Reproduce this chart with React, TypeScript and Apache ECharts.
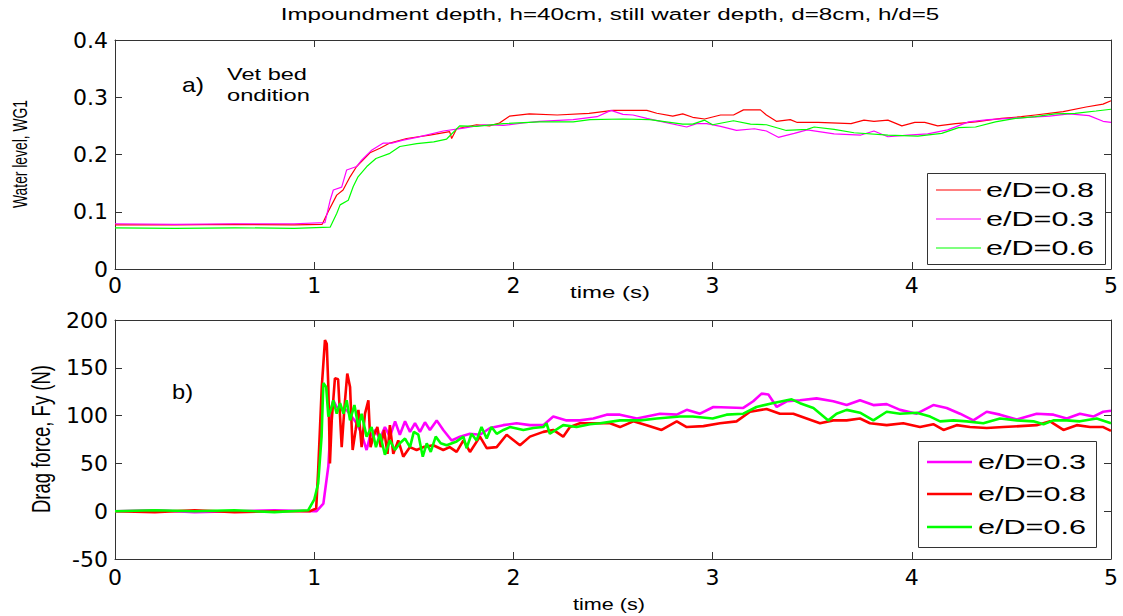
import React, { useEffect, useRef } from "react";
import * as echarts from "echarts";

// ---------- DATA ----------
const xTickLabels = ["0", "1", "2", "3", "4", "5"];
const topYTicks = [0, 0.1, 0.2, 0.3, 0.4];
const botYTicks = [-50, 0, 50, 100, 150, 200];

const titleText = "Impoundment depth, h=40cm, still water depth, d=8cm, h/d=5";
const topYName = "Water level, WG1";
const botYName = "Drag force, Fy (N)";
const xName = "time (s)";

const nameA = "e/D=0.8";
const nameB = "e/D=0.3";
const nameC = "e/D=0.6";

// Top panel: water level (m) vs time (s)
const wlRed08: number[][] = [
  [0, 0.077], [0.3, 0.077], [0.6, 0.078], [0.9, 0.077], [1.04, 0.078], [1.07, 0.1], [1.113, 0.129], [1.145, 0.138],
  [1.18, 0.161], [1.213, 0.179], [1.28, 0.203], [1.33, 0.211], [1.38, 0.22], [1.464, 0.228], [1.58, 0.234], [1.68, 0.24],
  [1.69, 0.228], [1.715, 0.245], [1.815, 0.252], [1.88, 0.25], [1.93, 0.255], [1.98, 0.267], [2.08, 0.271], [2.22, 0.269],
  [2.38, 0.272], [2.5, 0.277], [2.67, 0.277], [2.72, 0.272], [2.8, 0.267], [2.85, 0.271], [2.9, 0.265], [2.96, 0.262],
  [3.04, 0.269], [3.105, 0.269], [3.155, 0.278], [3.24, 0.278], [3.27, 0.269], [3.32, 0.258], [3.39, 0.261], [3.425, 0.256],
  [3.53, 0.256], [3.695, 0.254], [3.76, 0.26], [3.81, 0.258], [3.88, 0.26], [3.95, 0.25], [4.015, 0.256], [4.065, 0.256],
  [4.13, 0.25], [4.22, 0.254], [4.32, 0.257], [4.45, 0.263], [4.55, 0.266], [4.62, 0.269], [4.76, 0.275], [4.875, 0.283],
  [4.96, 0.288], [5.0, 0.294],
];
const wlMag03: number[][] = [
  [0, 0.079], [0.3, 0.078], [0.6, 0.079], [0.9, 0.079], [1.054, 0.081], [1.08, 0.12], [1.096, 0.138], [1.138, 0.143],
  [1.163, 0.173], [1.213, 0.179], [1.238, 0.19], [1.29, 0.208], [1.347, 0.22], [1.39, 0.22], [1.447, 0.225], [1.515, 0.23],
  [1.648, 0.241], [1.75, 0.246], [1.85, 0.252], [1.95, 0.251], [2.05, 0.255], [2.13, 0.258], [2.3, 0.261], [2.42, 0.266],
  [2.49, 0.277], [2.55, 0.27], [2.6, 0.269], [2.67, 0.263], [2.75, 0.257], [2.87, 0.248], [2.92, 0.254], [2.97, 0.254],
  [3.04, 0.249], [3.12, 0.242], [3.21, 0.245], [3.27, 0.241], [3.33, 0.23], [3.41, 0.237], [3.475, 0.243], [3.61, 0.236],
  [3.745, 0.234], [3.81, 0.241], [3.88, 0.231], [3.98, 0.234], [4.08, 0.236], [4.18, 0.243], [4.285, 0.257], [4.385, 0.261],
  [4.54, 0.264], [4.69, 0.267], [4.79, 0.271], [4.89, 0.268], [4.96, 0.258], [5.0, 0.256],
];
const wlGrn06: number[][] = [
  [0, 0.072], [0.3, 0.071], [0.6, 0.072], [0.9, 0.071], [1.08, 0.073], [1.113, 0.097], [1.13, 0.112], [1.171, 0.12],
  [1.196, 0.144], [1.22, 0.161], [1.264, 0.179], [1.31, 0.193], [1.38, 0.202], [1.43, 0.214], [1.515, 0.219], [1.6, 0.222],
  [1.665, 0.227], [1.73, 0.25], [1.815, 0.249], [1.95, 0.254], [2.13, 0.257], [2.3, 0.257], [2.385, 0.261], [2.55, 0.262],
  [2.685, 0.261], [2.85, 0.253], [2.9, 0.253], [2.96, 0.26], [3.0, 0.252], [3.105, 0.259], [3.19, 0.253], [3.27, 0.252],
  [3.37, 0.242], [3.475, 0.244], [3.51, 0.248], [3.61, 0.244], [3.71, 0.238], [3.88, 0.234], [4.03, 0.232], [4.15, 0.237],
  [4.235, 0.247], [4.32, 0.248], [4.42, 0.257], [4.52, 0.263], [4.62, 0.266], [4.72, 0.271], [4.82, 0.272], [4.925, 0.276],
  [5.0, 0.279],
];

// Bottom panel: drag force (N) vs time (s)
const dfMag03: number[][] = [
  [0, 0], [0.2, 1], [0.4, -1], [0.6, 0], [0.8, 1], [1.0, 0], [1.012, 0], [1.046, 8], [1.071, 47], [1.088, 109], [1.096, 116],
  [1.113, 109], [1.138, 106], [1.163, 106], [1.188, 99], [1.213, 92], [1.238, 81], [1.263, 64], [1.28, 78], [1.305, 85],
  [1.33, 76], [1.355, 88], [1.38, 78], [1.406, 94], [1.43, 80], [1.456, 94], [1.481, 83], [1.506, 92], [1.531, 83],
  [1.556, 93], [1.581, 85], [1.615, 95], [1.648, 85], [1.69, 74], [1.732, 78], [1.782, 81], [1.832, 80], [1.883, 87],
  [1.949, 90], [2.016, 92], [2.083, 90], [2.15, 90], [2.2, 99], [2.267, 95], [2.334, 95], [2.401, 97], [2.468, 101],
  [2.535, 101], [2.62, 97], [2.736, 102], [2.82, 101], [2.87, 106], [2.937, 102], [3.004, 109], [3.154, 108], [3.204, 115],
  [3.246, 123], [3.28, 122], [3.322, 109], [3.372, 115], [3.439, 116], [3.522, 118], [3.606, 115], [3.673, 111], [3.74, 116],
  [3.807, 111], [3.874, 112], [3.941, 106], [4.025, 102], [4.108, 111], [4.175, 108], [4.242, 102], [4.309, 95], [4.376, 104],
  [4.443, 101], [4.527, 96], [4.627, 102], [4.711, 101], [4.778, 97], [4.844, 102], [4.911, 99], [4.961, 104], [5.0, 105],
];
const dfRed08: number[][] = [
  [0, 0], [0.2, -1], [0.4, 1], [0.6, -1], [0.8, 0], [0.98, 0], [1.01, 3], [1.02, 43], [1.038, 130], [1.054, 179], [1.063, 175],
  [1.071, 130], [1.079, 50], [1.088, 95], [1.104, 139], [1.12, 138], [1.138, 67], [1.152, 109], [1.166, 144], [1.18, 130],
  [1.193, 64], [1.208, 85], [1.222, 106], [1.238, 67], [1.255, 102], [1.272, 116], [1.283, 67], [1.297, 78], [1.317, 88],
  [1.334, 67], [1.351, 85], [1.368, 60], [1.38, 90], [1.397, 60], [1.422, 74], [1.447, 57], [1.48, 67], [1.514, 64],
  [1.548, 67], [1.598, 69], [1.648, 64], [1.68, 67], [1.715, 62], [1.749, 74], [1.782, 62], [1.832, 78], [1.866, 66],
  [1.916, 67], [1.966, 80], [2.033, 69], [2.083, 78], [2.15, 83], [2.2, 85], [2.25, 78], [2.284, 88], [2.334, 92],
  [2.418, 92], [2.485, 92], [2.535, 88], [2.602, 94], [2.669, 90], [2.744, 85], [2.82, 94], [2.87, 88], [2.954, 89],
  [3.037, 92], [3.12, 94], [3.188, 104], [3.271, 107], [3.338, 102], [3.405, 102], [3.472, 97], [3.539, 92], [3.606, 95],
  [3.673, 95], [3.74, 97], [3.79, 92], [3.874, 90], [3.957, 92], [4.041, 88], [4.108, 91], [4.159, 85], [4.225, 90],
  [4.292, 88], [4.376, 87], [4.46, 88], [4.543, 89], [4.627, 90], [4.694, 94], [4.761, 85], [4.828, 90], [4.895, 88],
  [4.961, 88], [5.0, 84],
];
const dfGrn06: number[][] = [
  [0, 0], [0.2, 1], [0.4, 0], [0.6, 1], [0.8, -1], [0.97, 1], [1.0, 12], [1.02, 29], [1.037, 78], [1.046, 134], [1.06, 130],
  [1.071, 99], [1.083, 106], [1.096, 116], [1.113, 102], [1.13, 113], [1.147, 102], [1.163, 116], [1.18, 95], [1.202, 111],
  [1.222, 88], [1.238, 102], [1.263, 78], [1.288, 88], [1.31, 67], [1.33, 81], [1.355, 59], [1.38, 74], [1.405, 64],
  [1.43, 71], [1.456, 76], [1.481, 67], [1.5, 83], [1.523, 80], [1.545, 57], [1.565, 71], [1.585, 62], [1.61, 78],
  [1.635, 71], [1.665, 69], [1.715, 73], [1.749, 78], [1.765, 66], [1.79, 81], [1.815, 74], [1.84, 88], [1.866, 76],
  [1.89, 88], [1.916, 81], [1.95, 85], [1.983, 88], [2.05, 85], [2.1, 87], [2.15, 88], [2.166, 92], [2.183, 81], [2.25, 90],
  [2.317, 88], [2.384, 91], [2.435, 92], [2.535, 95], [2.636, 95], [2.72, 97], [2.836, 99], [2.9, 99], [3.0, 97],
  [3.07, 101], [3.154, 102], [3.22, 109], [3.3, 113], [3.397, 117], [3.439, 113], [3.506, 108], [3.581, 95], [3.622, 102],
  [3.673, 106], [3.74, 103], [3.807, 95], [3.874, 104], [3.941, 102], [4.025, 103], [4.092, 99], [4.142, 94], [4.209, 95],
  [4.276, 94], [4.359, 92], [4.443, 97], [4.527, 95], [4.611, 94], [4.661, 91], [4.711, 95], [4.778, 95], [4.844, 94],
  [4.928, 97], [5.0, 92],
];

// ---------- STYLE ----------
const RED = "#ff0000";
const MAG = "#ff00ff";
const GRN = "#00ff00";
const AXIS = "#333333";
const TXT = "Liberation Sans";
const TICKFONT = "DejaVu Sans";
const STRETCH = 1.4;

const topSeries = [
  { name: nameA, data: wlRed08, color: RED },
  { name: nameB, data: wlMag03, color: MAG },
  { name: nameC, data: wlGrn06, color: GRN },
];
const botSeries = [
  { name: nameB, data: dfMag03, color: MAG },
  { name: nameA, data: dfRed08, color: RED },
  { name: nameC, data: dfGrn06, color: GRN },
];

let measureCtx: CanvasRenderingContext2D | null = null;
function textWidth(text: string, font: string): number {
  if (!measureCtx) measureCtx = document.createElement("canvas").getContext("2d");
  if (!measureCtx) return text.length * 8;
  measureCtx.font = font;
  return measureCtx.measureText(text).width || text.length * 8;
}

function fitText(text: string, x: number, y: number, size: number, width: number, align: string = "left", extra: any = {}) {
  const font = `${size}px "${TXT}", Arial, sans-serif`;
  const sx = width / textWidth(text, font);
  return {
    type: "text",
    x,
    y,
    scaleX: sx,
    scaleY: 1,
    z: 100,
    style: {
      text,
      font,
      fill: "#000",
      textAlign: align,
      textVerticalAlign: "middle",
      align,
      verticalAlign: "middle",
    },
    ...extra,
  };
}

function rotText(text: string, cx: number, cy: number, size: number, length: number) {
  const font = `${size}px "${TXT}", Arial, sans-serif`;
  const sx = length / textWidth(text, font);
  return {
    type: "text",
    x: cx,
    y: cy,
    rotation: Math.PI / 2,
    scaleX: sx,
    scaleY: STRETCH,
    z: 100,
    style: {
      text,
      font,
      fill: "#000",
      textAlign: "center",
      textVerticalAlign: "middle",
      align: "center",
      verticalAlign: "middle",
    },
  };
}

function legendBox(entries: any[], bx: number, by: number, bw: number, bh: number, rows: number[], lx1: number, lx2: number, tx: number, tw: number, lw: number) {
  const els: any[] = [
    {
      type: "rect",
      z: 99,
      shape: { x: bx + 0.5, y: by + 0.5, width: bw, height: bh },
      style: { fill: "#fff", stroke: AXIS, lineWidth: 1 },
    },
  ];
  entries.forEach((e, i) => {
    els.push({
      type: "line",
      z: 100,
      shape: { x1: lx1, y1: rows[i], x2: lx2, y2: rows[i] },
      style: { stroke: e.color, lineWidth: lw },
    });
    els.push(fitText(e.name, tx, rows[i], 21, tw, "left"));
  });
  return els;
}

const axisLineStyle = { color: AXIS, width: 1 };

function xAxisDef(grid: number, pos: string, showLabel: boolean, margin: number) {
  return {
    type: "value",
    gridIndex: grid,
    position: pos,
    min: 0,
    max: 5,
    interval: 1,
    axisLine: { show: true, onZero: false, lineStyle: axisLineStyle },
    axisTick: { show: true, inside: true, length: 7, lineStyle: axisLineStyle },
    splitLine: { show: false },
    axisLabel: {
      show: showLabel,
      margin,
      color: "#000",
      fontFamily: TICKFONT,
      fontSize: 22,
      formatter: (v: number) => xTickLabels[Math.round(v)] ?? String(v),
    },
  };
}

function yAxisDef(grid: number, pos: string, showLabel: boolean, ticks: number[], fmt: (v: number) => string) {
  const iv = ticks[1] - ticks[0];
  return {
    type: "value",
    gridIndex: grid,
    position: pos,
    min: ticks[0],
    max: ticks[ticks.length - 1],
    interval: iv,
    axisLine: { show: true, onZero: false, lineStyle: axisLineStyle },
    axisTick: { show: true, inside: true, length: 7, lineStyle: axisLineStyle },
    splitLine: { show: false },
    axisLabel: {
      show: showLabel,
      margin: 7,
      color: "#000",
      fontFamily: TICKFONT,
      fontSize: 22,
      formatter: fmt,
    },
  };
}

export default function App() {
  const ref = useRef<HTMLDivElement>(null);

  useEffect(() => {
    if (!ref.current) return;
    const chart = echarts.init(ref.current, null, { renderer: "svg" });

    const topFmt = (v: number) => (Math.abs(v) < 1e-9 ? "0" : v.toFixed(1));
    const botFmt = (v: number) => String(Math.round(v));

    const series: any[] = [];
    topSeries.forEach((s) =>
      series.push({
        type: "line",
        name: s.name,
        xAxisIndex: 0,
        yAxisIndex: 0,
        data: s.data,
        symbol: "none",
        showSymbol: false,
        lineStyle: { color: s.color, width: 1.2 },
        itemStyle: { color: s.color },
        silent: true,
        z: 3,
      })
    );
    botSeries.forEach((s) =>
      series.push({
        type: "line",
        name: s.name,
        xAxisIndex: 2,
        yAxisIndex: 2,
        data: s.data,
        symbol: "none",
        showSymbol: false,
        lineStyle: { color: s.color, width: 2.6 },
        itemStyle: { color: s.color },
        silent: true,
        z: 3,
      })
    );

    const graphics: any[] = [
      fitText(titleText, 610, 14, 17, 659, "center"),
      fitText("a)", 182, 85, 20, 22, "left"),
      fitText("Vet bed", 227, 74, 16, 80, "left"),
      fitText("ondition", 227, 95, 16, 83, "left"),
      fitText("b)", 172, 392, 20, 21, "left"),
      fitText(xName, 610, 293, 16, 80, "center"),
      fitText(xName, 609, 605, 16, 72, "center"),
      rotText(topYName, 20, 154, 15, 108),
      rotText(botYName, 41, 439, 18, 148),
      ...legendBox(topSeries, 927, 173, 178, 91, [190, 219, 248], 936, 981, 986, 108, 1.2),
      ...legendBox(botSeries, 918, 441, 178, 106, [462, 494, 527], 927, 972, 978, 108, 2.6),
    ];

    chart.setOption({
      animation: false,
      backgroundColor: "#ffffff",
      textStyle: { fontFamily: TXT },
      grid: [
        { left: 115, top: 40, width: 996, height: 229, containLabel: false },
        { left: 115, top: 320, width: 996, height: 239, containLabel: false },
      ],
      xAxis: [
        xAxisDef(0, "bottom", true, 5),
        xAxisDef(0, "top", false, 5),
        xAxisDef(1, "bottom", true, 7),
        xAxisDef(1, "top", false, 7),
      ],
      yAxis: [
        yAxisDef(0, "left", true, topYTicks, topFmt),
        yAxisDef(0, "right", false, topYTicks, topFmt),
        yAxisDef(1, "left", true, botYTicks, botFmt),
        yAxisDef(1, "right", false, botYTicks, botFmt),
      ],
      series,
      graphic: { elements: graphics },
    });

    return () => chart.dispose();
  }, []);

  return (
    <div
      ref={ref}
      style={{ position: "fixed", left: 0, top: 0, width: 1123, height: 616, background: "#fff" }}
    />
  );
}
